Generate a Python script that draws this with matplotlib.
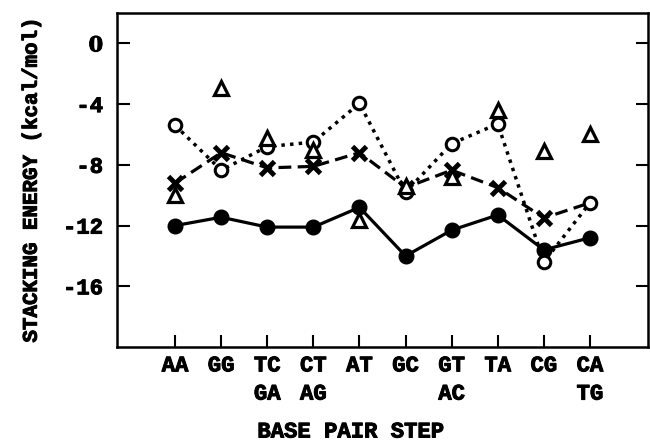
import numpy as np
import matplotlib
matplotlib.use('Agg')
import matplotlib.pyplot as plt
import matplotlib.patheffects as pe

# base pair steps
steps = ['AA', 'GG', 'TC\nGA', 'CT\nAG', 'AT', 'GC', 'GT\nAC', 'TA', 'CG', 'CA\nTG']

# stacking energies (kcal/mol)
filled = [-12.0, -11.45, -12.1, -12.1, -10.8, -14.0, -12.3, -11.3, -13.6, -12.8]
cross = [-9.2, -7.2, -8.2, -8.1, -7.2, -9.5, -8.35, -9.5, -11.5, -10.5]
opencirc = [-5.4, -8.35, -6.8, -6.5, -3.95, -9.8, -6.6, -5.3, -14.4, -10.5]
triangle = [-10.0, -2.95, -6.25, -7.0, -11.6, -9.4, -8.8, -4.4, -7.1, -6.0]

yticks = [0, -4, -8, -12, -16]

plt.rcParams['font.family'] = 'Liberation Mono'
plt.rcParams['font.weight'] = 'bold'
heavy = [pe.withStroke(linewidth=0.7, foreground='k')]

fig = plt.figure(figsize=(6.5, 4.41), dpi=100)
ax = fig.add_axes([0.18, 0.213, 0.817, 0.7575])

t = np.arange(len(steps))
ax.plot(t, filled, 'k-', lw=2.3, marker='o', ms=10.5, mfc='k', zorder=3)
ax.plot(t, cross, color='k', ls=(0, (4, 2)), lw=2.3, marker='x', ms=10, mew=3.5,
        markevery=list(range(9)), zorder=2)
ax.plot(t, opencirc, color='k', ls=(0, (1, 1.5)), lw=2.5, marker='o', ms=9,
        mfc='white', mew=2.2, zorder=4)
ax.plot(t, triangle, ls='none', marker='^', ms=10, mfc='white', mec='k', mew=2.3, zorder=5)

ax.set_xlim(-1.26, 10.26)
ax.set_ylim(-20, 2)
ax.set_xticks(t)
ax.set_xticklabels(steps, fontsize=16, fontweight='bold', linespacing=1.45, va='top')
ax.set_yticks(yticks)
ax.set_yticklabels([str(v) for v in yticks], fontsize=16, fontweight='bold')
ax.tick_params(axis='both', direction='in', length=9, width=1.5, right=True)
ax.tick_params(axis='x', pad=6)
ax.tick_params(axis='y', pad=10)
for lab in ax.get_xticklabels() + ax.get_yticklabels():
    lab.set_path_effects(heavy)
    if lab.get_text() == '0':
        # plain zero (the mono font draws a dotted one)
        lab.set_family('DejaVu Serif')
        lab.set_fontsize(15)
for s in ax.spines.values():
    s.set_linewidth(1.8)

ylab = ax.set_ylabel('STACKING ENERGY (kcal/mol)', fontsize=15, fontweight='bold', labelpad=16)
ylab.set_path_effects(heavy)
fig.text(351 / 650, 1 - 432 / 441, 'BASE PAIR STEP', fontsize=16, fontweight='bold',
         ha='center', va='center', path_effects=heavy)

plt.savefig('out.png', dpi=100)
